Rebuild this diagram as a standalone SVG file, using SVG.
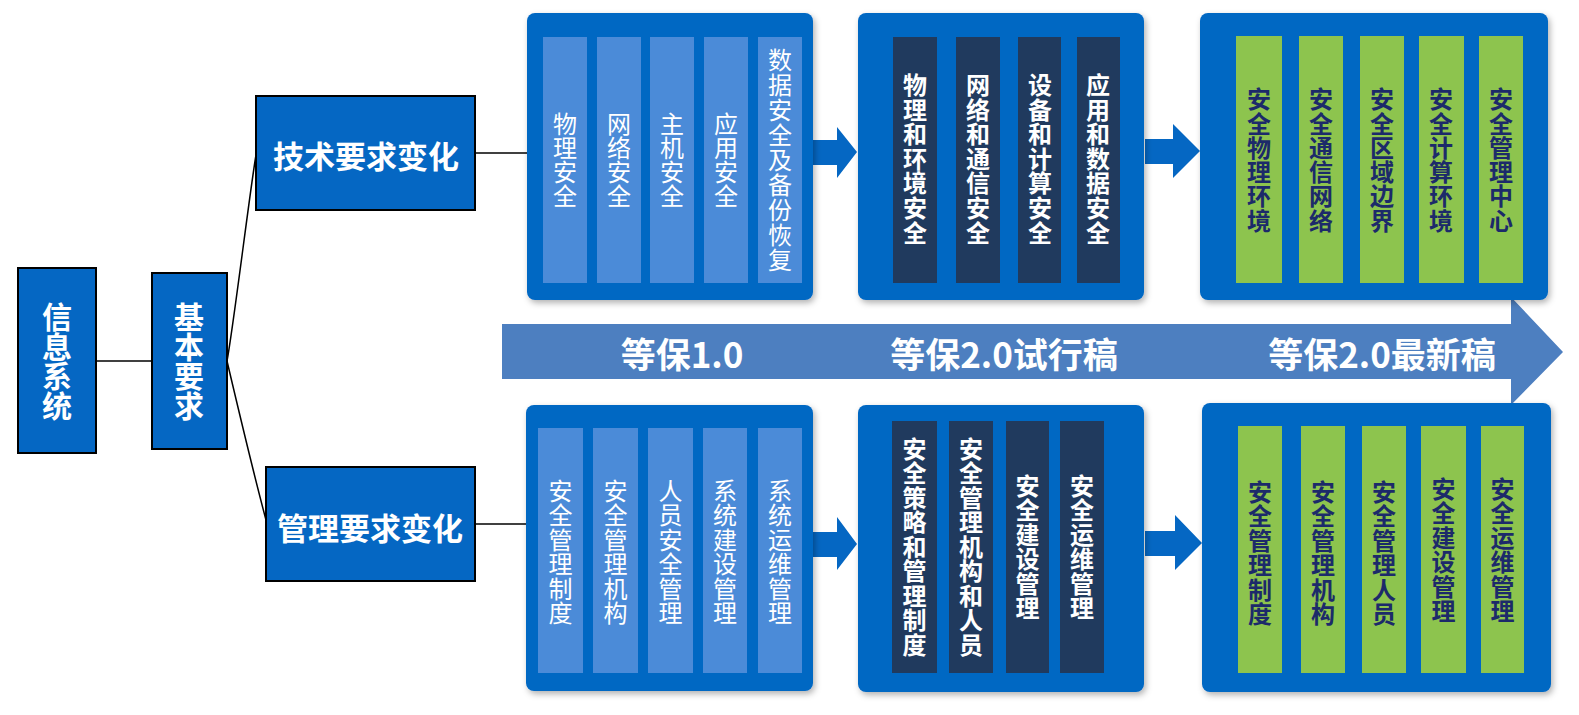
<svg xmlns="http://www.w3.org/2000/svg" width="1579" height="715" viewBox="0 0 1579 715">
<defs>
<filter id="sh" x="-5%" y="-5%" width="112%" height="112%">
<feDropShadow dx="2" dy="3" stdDeviation="3" flood-color="#000" flood-opacity="0.3"/>
</filter>
<style>
text{font-family:"Noto Sans CJK SC","Noto Sans",sans-serif;text-anchor:middle;dominant-baseline:central}
.v{writing-mode:vertical-rl;text-orientation:upright}
.node{fill:#0567C3;stroke:#000;stroke-width:2}
.nt{fill:#fff;font-weight:700;font-size:30px}
.panel{fill:#0567C3;filter:url(#sh)}
.lc{fill:#4B8BD8}
.nc{fill:#203A5E}
.gc{fill:#8DC44E}
.lt{fill:#fff;font-size:24px;font-weight:400}
.wt{fill:#fff;font-weight:700}
.gt{fill:#1C2A6A;font-size:24px;font-weight:700}
.conn{stroke:#000;stroke-width:1.5;fill:none}
.arr{fill:#0567C3}
.big{fill:#4D7FC0}
.bt{fill:#fff;font-size:35px;font-weight:700}
</style>
</defs>
<rect width="1579" height="715" fill="#fff"/>

<g id="connectors">
<line class="conn" x1="96" y1="361" x2="152" y2="361"/>
<path class="conn" d="M227,361 C233,330 250,190 256,155"/>
<path class="conn" d="M227,361 C235,395 258,490 266,520"/>
<line class="conn" x1="475" y1="153" x2="527" y2="153"/>
<line class="conn" x1="475" y1="524" x2="526" y2="524"/>
<polygon class="arr" points="813,140 837,140 837,127 857,152 837,178 837,165 813,165"/>
<polygon class="arr" points="1145,139 1173,139 1173,124 1200,151 1173,178 1173,164 1145,164"/>
<polygon class="arr" points="813,532 837,532 837,517 857,544 837,570 837,557 813,557"/>
<polygon class="arr" points="1145,531 1175,531 1175,515 1202,543 1175,570 1175,556 1145,556"/>
</g>

<g id="n-info">
<rect class="node" x="18" y="268" width="78" height="185"/>
<text class="nt v" x="57" y="361" style="letter-spacing:-0.5px">信息系统</text>
</g>
<g id="n-basic">
<rect class="node" x="152" y="273" width="75" height="176"/>
<text class="nt v" x="189" y="361" style="letter-spacing:-0.5px">基本要求</text>
</g>
<g id="n-tech">
<rect class="node" x="256" y="96" width="219" height="114"/>
<text class="nt" x="366" y="154" style="font-size:31px">技术要求变化</text>
</g>
<g id="n-mgmt">
<rect class="node" x="266" y="467" width="209" height="114"/>
<text class="nt" x="370" y="526" style="font-size:31px">管理要求变化</text>
</g>

<g id="big-arrow">
<polygon class="big" points="502,324 1511,324 1511,297 1563,352 1511,405 1511,379 502,379"/>
<text class="bt" x="682" y="352">等保1.0</text>
<text class="bt" x="1004" y="352">等保2.0试行稿</text>
<text class="bt" x="1382" y="352">等保2.0最新稿</text>
</g>

<g id="p-tech-1">
<rect class="panel" x="527" y="13" width="286" height="287" rx="8"/>
<rect class="lc" x="543" y="37" width="44" height="246"/>
<rect class="lc" x="597" y="37" width="44" height="246"/>
<rect class="lc" x="650" y="37" width="44" height="246"/>
<rect class="lc" x="704" y="37" width="44" height="246"/>
<rect class="lc" x="758" y="37" width="44" height="246"/>
<text class="lt v" x="565" y="160">物理安全</text>
<text class="lt v" x="619" y="160">网络安全</text>
<text class="lt v" x="672" y="160">主机安全</text>
<text class="lt v" x="726" y="160">应用安全</text>
<text class="lt v" x="780" y="160" style="letter-spacing:1px">数据安全及备份恢复</text>
</g>

<g id="p-tech-2">
<rect class="panel" x="858" y="13" width="286" height="287" rx="8"/>
<rect class="nc" x="893" y="37" width="44" height="246"/>
<rect class="nc" x="956" y="37" width="44" height="246"/>
<rect class="nc" x="1018" y="37" width="43" height="246"/>
<rect class="nc" x="1077" y="37" width="43" height="246"/>
<text class="wt v" x="915" y="159" style="font-size:24px;letter-spacing:0.6px">物理和环境安全</text>
<text class="wt v" x="978" y="159" style="font-size:24px;letter-spacing:0.6px">网络和通信安全</text>
<text class="wt v" x="1040" y="159" style="font-size:24px;letter-spacing:0.6px">设备和计算安全</text>
<text class="wt v" x="1098" y="159" style="font-size:24px;letter-spacing:0.6px">应用和数据安全</text>
</g>

<g id="p-tech-3">
<rect class="panel" x="1200" y="13" width="348" height="287" rx="8"/>
<rect class="gc" x="1236" y="36" width="46" height="247"/>
<rect class="gc" x="1299" y="36" width="44" height="247"/>
<rect class="gc" x="1360" y="36" width="44" height="247"/>
<rect class="gc" x="1419" y="36" width="45" height="247"/>
<rect class="gc" x="1479" y="36" width="44" height="247"/>
<text class="gt v" x="1259" y="160" style="letter-spacing:0.3px">安全物理环境</text>
<text class="gt v" x="1321" y="160" style="letter-spacing:0.3px">安全通信网络</text>
<text class="gt v" x="1382" y="160" style="letter-spacing:0.3px">安全区域边界</text>
<text class="gt v" x="1441" y="160" style="letter-spacing:0.3px">安全计算环境</text>
<text class="gt v" x="1501" y="160" style="letter-spacing:0.3px">安全管理中心</text>
</g>

<g id="p-mgmt-1">
<rect class="panel" x="526" y="405" width="287" height="286" rx="8"/>
<rect class="lc" x="538" y="428" width="45" height="245"/>
<rect class="lc" x="593" y="428" width="45" height="245"/>
<rect class="lc" x="648" y="428" width="45" height="245"/>
<rect class="lc" x="703" y="428" width="44" height="245"/>
<rect class="lc" x="758" y="428" width="44" height="245"/>
<text class="lt v" x="560.5" y="552" style="letter-spacing:0.5px">安全管理制度</text>
<text class="lt v" x="615.5" y="552" style="letter-spacing:0.5px">安全管理机构</text>
<text class="lt v" x="670.5" y="552" style="letter-spacing:0.5px">人员安全管理</text>
<text class="lt v" x="725" y="552" style="letter-spacing:0.5px">系统建设管理</text>
<text class="lt v" x="780" y="552" style="letter-spacing:0.5px">系统运维管理</text>
</g>

<g id="p-mgmt-2">
<rect class="panel" x="858" y="405" width="286" height="287" rx="8"/>
<rect class="nc" x="892" y="421" width="45" height="252"/>
<rect class="nc" x="949" y="421" width="44" height="252"/>
<rect class="nc" x="1006" y="421" width="43" height="252"/>
<rect class="nc" x="1060" y="421" width="44" height="252"/>
<text class="wt v" x="914.5" y="547" style="font-size:24px;letter-spacing:0.5px">安全策略和管理制度</text>
<text class="wt v" x="971" y="547" style="font-size:24px;letter-spacing:0.5px">安全管理机构和人员</text>
<text class="wt v" x="1027.5" y="547" style="font-size:24px;letter-spacing:0.5px">安全建设管理</text>
<text class="wt v" x="1082" y="547" style="font-size:24px;letter-spacing:0.5px">安全运维管理</text>
</g>

<g id="p-mgmt-3">
<rect class="panel" x="1202" y="403" width="349" height="289" rx="8"/>
<rect class="gc" x="1238" y="426" width="44" height="247"/>
<rect class="gc" x="1301" y="426" width="44" height="247"/>
<rect class="gc" x="1362" y="426" width="44" height="247"/>
<rect class="gc" x="1421" y="426" width="45" height="247"/>
<rect class="gc" x="1481" y="426" width="43" height="247"/>
<text class="gt v" x="1260" y="553" style="letter-spacing:0.5px">安全管理制度</text>
<text class="gt v" x="1323" y="553" style="letter-spacing:0.5px">安全管理机构</text>
<text class="gt v" x="1384" y="553" style="letter-spacing:0.5px">安全管理人员</text>
<text class="gt v" x="1443.5" y="550" style="letter-spacing:0.5px">安全建设管理</text>
<text class="gt v" x="1502.5" y="550" style="letter-spacing:0.5px">安全运维管理</text>
</g>
</svg>
